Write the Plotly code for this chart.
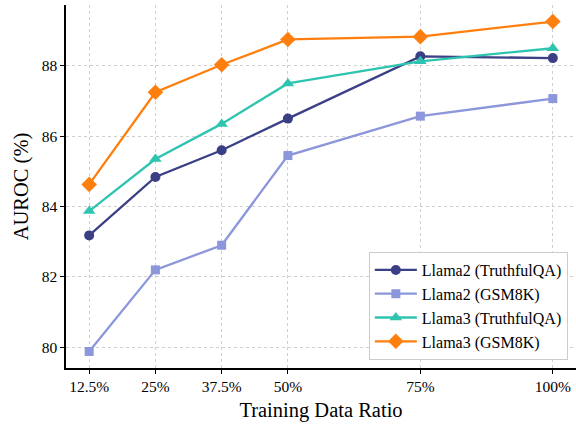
import plotly.graph_objects as go

x_vals = [12.5, 25, 37.5, 50, 75, 100]
x_labels = ["12.5%", "25%", "37.5%", "50%", "75%", "100%"]

llama2_tqa = [83.18, 84.84, 85.60, 86.50, 88.27, 88.22]
llama2_gsm = [79.88, 82.20, 82.90, 85.45, 86.57, 87.07]
llama3_tqa = [83.87, 85.35, 86.35, 87.50, 88.13, 88.50]
llama3_gsm = [84.63, 87.25, 88.03, 88.75, 88.83, 89.26]

series = [
    ("Llama2 (TruthfulQA)", llama2_tqa, "#3b3f85", "circle", 10),
    ("Llama2 (GSM8K)", llama2_gsm, "#8c96da", "square", 9),
    ("Llama3 (TruthfulQA)", llama3_tqa, "#2ec4b0", "triangle-up", 11),
    ("Llama3 (GSM8K)", llama3_gsm, "#ff7f0e", "diamond", 12),
]

fig = go.Figure()
for name, ys, color, sym, size in series:
    fig.add_trace(go.Scatter(
        x=x_vals, y=ys, name=name, mode="lines+markers",
        line=dict(color=color, width=2.3),
        marker=dict(symbol=sym, size=size, color=color),
    ))

font = "Times New Roman, Liberation Serif, Times, serif"
fig.update_layout(
    width=576, height=425,
    margin=dict(l=66, r=0, t=5, b=57, autoexpand=False),
    plot_bgcolor="white", paper_bgcolor="white",
    font=dict(family=font, size=15.5, color="black"),
    showlegend=True,
    legend=dict(
        x=0.984, y=0.022, xanchor="right", yanchor="bottom",
        bgcolor="white", bordercolor="#cccccc", borderwidth=1,
        font=dict(family=font, size=16, color="black"),
        tracegroupgap=0, itemwidth=42,
    ),
    xaxis=dict(
        range=[8.125, 104.375], tickvals=x_vals, ticktext=x_labels,
        showgrid=True, gridcolor="#cfcfcf", griddash="dot", gridwidth=1,
        showline=True, linecolor="black", linewidth=1.5,
        ticks="outside", ticklen=4, tickcolor="black",
        zeroline=False, automargin=False,
        title=dict(text="Training Data Ratio", font=dict(family=font, size=20.5), standoff=8),
        tickfont=dict(family=font, size=15.5),
    ),
    yaxis=dict(
        range=[79.41, 89.73], tickvals=[80, 82, 84, 86, 88],
        showgrid=True, gridcolor="#cfcfcf", griddash="dot", gridwidth=1,
        showline=True, linecolor="black", linewidth=1.5,
        ticks="outside", ticklen=4, tickcolor="black",
        zeroline=False, automargin=False,
        title=dict(text="AUROC (%)", font=dict(family=font, size=20.5), standoff=7),
        tickfont=dict(family=font, size=15.5),
    ),
)

fig.write_html(
    "out.html",
    config={"displayModeBar": False},
    post_script="document.body.style.margin='0px';document.body.style.padding='0px';",
)
